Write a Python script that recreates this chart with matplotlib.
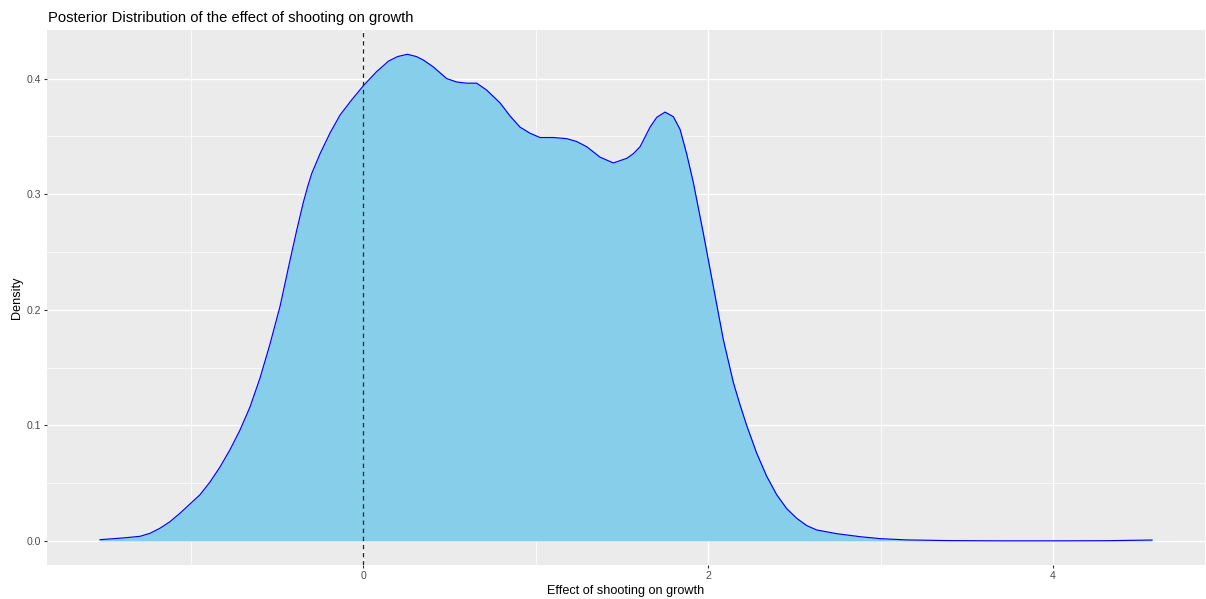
import matplotlib
matplotlib.use("Agg")
import matplotlib.pyplot as plt
from matplotlib.ticker import MultipleLocator

plt.rcParams['font.family'] = ['Liberation Sans', 'DejaVu Sans']

# Density curve (effect, density)
effect = [-1.525, -1.390, -1.293, -1.235, -1.177, -1.119, -1.061, -1.003, -0.945,
          -0.887, -0.829, -0.771, -0.713, -0.655, -0.597, -0.540, -0.481,
          -0.423, -0.384, -0.346, -0.320, -0.297, -0.249, -0.191, -0.133, -0.066, 0.006,
          0.079, 0.147, 0.200, 0.257, 0.310, 0.350, 0.408, 0.485, 0.543, 0.600,
          0.659, 0.717, 0.794, 0.852, 0.910, 0.968, 1.026, 1.104, 1.181, 1.239,
          1.297, 1.374, 1.451, 1.529, 1.567, 1.606, 1.664, 1.703, 1.751, 1.799,
          1.838, 1.876, 1.915, 1.973, 2.031, 2.089, 2.147, 2.185, 2.224, 2.282, 2.340,
          2.398, 2.456, 2.514, 2.572, 2.630, 2.746, 2.881, 2.997, 3.152, 3.400,
          3.700, 4.000, 4.300, 4.574]
density = [0.0011, 0.0026, 0.0040, 0.0066, 0.011, 0.0167, 0.024, 0.032, 0.040,
           0.051, 0.064, 0.079, 0.096, 0.116, 0.141, 0.170, 0.203,
           0.243, 0.269, 0.293, 0.307, 0.318, 0.335, 0.353, 0.3685, 0.3815, 0.3945,
           0.406, 0.415, 0.419, 0.421, 0.419, 0.416, 0.410, 0.400, 0.397, 0.396,
           0.396, 0.390, 0.379, 0.3677, 0.358, 0.3527, 0.349, 0.349, 0.348, 0.3455,
           0.341, 0.332, 0.327, 0.331, 0.335, 0.341, 0.358, 0.3665, 0.371, 0.367,
           0.356, 0.335, 0.310, 0.266, 0.220, 0.174, 0.137, 0.118, 0.100, 0.076, 0.056,
           0.040, 0.028, 0.0196, 0.0133, 0.0095, 0.0063, 0.0037, 0.0020, 0.0009, 0.0003,
           0.0001, 0.0001, 0.0002, 0.0008]

title = "Posterior Distribution of the effect of shooting on growth"
xlabel = "Effect of shooting on growth"
ylabel = "Density"
x_ticks = [0, 2, 4]
y_ticks = [0.0, 0.1, 0.2, 0.3, 0.4]
ref_line = 0

fig = plt.figure(figsize=(12.06, 5.99), dpi=100)
ax = fig.add_axes([47/1206, 1-565/599, (1205-47)/1206, (565-30)/599])
ax.set_facecolor('#EBEBEB')
for s in ax.spines.values():
    s.set_visible(False)

ax.set_xlim(-1.832, 4.881)
ax.set_ylim(-0.0208, 0.442)

ax.xaxis.set_minor_locator(MultipleLocator(1))
ax.yaxis.set_minor_locator(MultipleLocator(0.05))
ax.set_xticks(x_ticks)
ax.set_yticks(y_ticks)
ax.set_xticklabels([str(t) for t in x_ticks])
ax.set_yticklabels([f"{t:.1f}" for t in y_ticks])

ax.grid(which='major', color='white', linewidth=1.0)
ax.grid(which='minor', color='white', linewidth=0.5)
ax.set_axisbelow(True)

ax.tick_params(which='major', length=2.5, width=0.8, color='#333333',
               labelsize=7.6, labelcolor='#4D4D4D', pad=2)
ax.tick_params(which='minor', length=0)

ax.fill_between(effect, density, 0, color='#87CEEB', linewidth=0, zorder=2)
ax.plot(effect, density, color='#0000FF', linewidth=0.85, zorder=3,
        solid_joinstyle='round')
ax.axvline(ref_line, color='#222222', linestyle=(0, (3.5, 3)), linewidth=0.9, zorder=4)

ax.set_xlabel(xlabel, fontsize=9.1, color='black', labelpad=3)
ax.set_ylabel(ylabel, fontsize=9.1, color='black', labelpad=2)
fig.text(48/1206, 1-22/599, title, fontsize=10.6, color='black', ha='left', va='baseline')

fig.savefig('out.png', dpi=100)
